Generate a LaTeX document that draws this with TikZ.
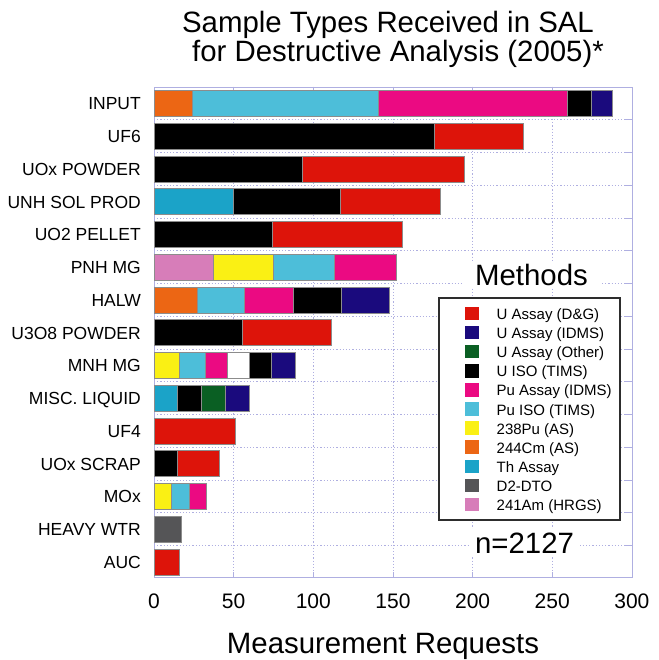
\documentclass[tikz,border=0pt]{standalone}
\usepackage{fontspec}
\setmainfont{Liberation Sans}

% method colours
\definecolor{cuDG}{RGB}{221,20,10}
\definecolor{cuIDMS}{RGB}{26,10,125}
\definecolor{cuOther}{RGB}{10,95,35}
\definecolor{cuISO}{RGB}{0,0,0}
\definecolor{cpuIDMS}{RGB}{235,10,130}
\definecolor{cpuISO}{RGB}{77,190,217}
\definecolor{cpuA}{RGB}{250,240,20}
\definecolor{ccm}{RGB}{236,102,20}
\definecolor{cth}{RGB}{27,163,200}
\definecolor{cdto}{RGB}{85,85,87}
\definecolor{cam}{RGB}{215,125,185}
\definecolor{gridc}{RGB}{175,175,225}
\definecolor{segline}{RGB}{140,140,140}
\definecolor{legframe}{RGB}{45,45,45}

\tikzset{
  gridline/.style={gridc, line width=0.8pt, dash pattern=on 1.2pt off 2pt},
  framel/.style={gridc, line width=0.9pt},
  barseg/.style={draw=segline, line width=0.8pt},
  ylab/.style={anchor=base east, inner sep=0pt, font=\fontsize{17.5}{20}\selectfont},
  ticklab/.style={anchor=base, inner sep=0pt, font=\fontsize{21}{24}\selectfont},
  bigtext/.style={anchor=base, inner sep=0pt, font=\fontsize{29.4}{34}\selectfont},
  legtext/.style={anchor=base west, inner sep=0pt, font=\fontsize{15}{18}\selectfont},
  swatch/.style={minimum size=13.5pt, inner sep=0pt, draw=none},
}

\begin{document}
\begin{tikzpicture}[x=1pt, y=-1pt]
\useasboundingbox (0,0) rectangle (658,660);
\fill[white] (0,0) rectangle (658,660);

% title
\node[bigtext] (title1) at (388,33) {Sample Types Received in SAL};
\node[bigtext] (title2) at (398,62) {for Destructive Analysis (2005)*};

% grid
\foreach \v in {50,100,...,250}
  \draw[gridline] ({154+\v*1.593},87) -- ({154+\v*1.593},577);
\foreach \i in {1,...,14}
  \draw[gridline] (154,{87+\i*32.75}) -- (632,{87+\i*32.75});

% frame and ticks
\draw[framel] (154,87) rectangle (632,577);
\foreach \v in {50,100,...,250} {
  \draw[framel] ({154+\v*1.593},87) -- ({154+\v*1.593},92);
  \draw[framel] ({154+\v*1.593},577) -- ({154+\v*1.593},572);
}
\foreach \i in {1,...,14} {
  \draw[framel] (632,{87+\i*32.75}) -- (626,{87+\i*32.75});
}

% stacked bars: row / from / to / colour
\foreach \r/\a/\b/\c in {
  0/0/24/ccm, 0/24/141/cpuISO, 0/141/259.5/cpuIDMS, 0/259.5/274.5/cuISO, 0/274.5/288/cuIDMS,
  1/0/176/cuISO, 1/176/232/cuDG,
  2/0/93/cuISO, 2/93/195/cuDG,
  3/0/50/cth, 3/50/117/cuISO, 3/117/180/cuDG,
  4/0/74.5/cuISO, 4/74.5/156/cuDG,
  5/0/37/cam, 5/37/75/cpuA, 5/75/113/cpuISO, 5/113/152/cpuIDMS,
  6/0/27/ccm, 6/27/57/cpuISO, 6/57/87.5/cpuIDMS, 6/87.5/117.5/cuISO, 6/117.5/148/cuIDMS,
  7/0/55.5/cuISO, 7/55.5/111.5/cuDG,
  8/0/16/cpuA, 8/16/32/cpuISO, 8/32/46/cpuIDMS, 8/46/60/white, 8/60/74/cuISO, 8/74/88.5/cuIDMS,
  9/0/15/cth, 9/15/30/cuISO, 9/30/45/cuOther, 9/45/60/cuIDMS,
  10/0/51/cuDG,
  11/0/15/cuISO, 11/15/41/cuDG,
  12/0/11/cpuA, 12/11/22/cpuISO, 12/22/33/cpuIDMS,
  13/0/17/cdto,
  14/0/16/cuDG} {
  \pgfmathsetmacro\yc{87+\r*32.75+16.5}
  \filldraw[barseg, fill=\c] ({154+\a*1.593},{\yc-13}) rectangle ({154+\b*1.593},{\yc+13});
}

% sample type labels
\foreach \r/\t in {0/INPUT, 1/UF6, 2/UOx POWDER, 3/UNH SOL PROD, 4/UO2 PELLET,
  5/PNH MG, 6/HALW, 7/U3O8 POWDER, 8/MNH MG, 9/MISC. LIQUID, 10/UF4,
  11/UOx SCRAP, 12/MOx, 13/HEAVY WTR, 14/AUC} {
  \node[ylab] (row\r) at (141,{87+\r*32.75+16.5+6.3}) {\t};
}

% x axis
\foreach \v in {0,50,...,300}
  \node[ticklab] (tick\v) at ({154+\v*1.593},608) {\v};
\node[bigtext] (xtitle) at (383,653) {Measurement Requests};

% legend
\node[bigtext, fill=white, inner xsep=12pt, inner ysep=3pt] (methods) at (531.5,285) {Methods};
\draw[legframe, fill=white, line width=1.4pt] (439,298) rectangle (620,520);
\foreach \k/\c/\t in {0/cuDG/U Assay (D\&G), 1/cuIDMS/U Assay (IDMS), 2/cuOther/U Assay (Other),
  3/cuISO/U ISO (TIMS), 4/cpuIDMS/Pu Assay (IDMS), 5/cpuISO/Pu ISO (TIMS),
  6/cpuA/238Pu (AS), 7/ccm/244Cm (AS), 8/cth/Th Assay, 9/cdto/D2-DTO, 10/cam/241Am (HRGS)} {
  \node[swatch, fill=\c] (sw\k) at (472,{313.5+\k*19.1}) {};
  \node[legtext] (leg\k) at (496.5,{313.5+\k*19.1+6}) {\t};
}
\node[bigtext, fill=white, inner xsep=6pt, inner ysep=3pt] (count) at (524.5,553) {n=2127};
\end{tikzpicture}
\end{document}
